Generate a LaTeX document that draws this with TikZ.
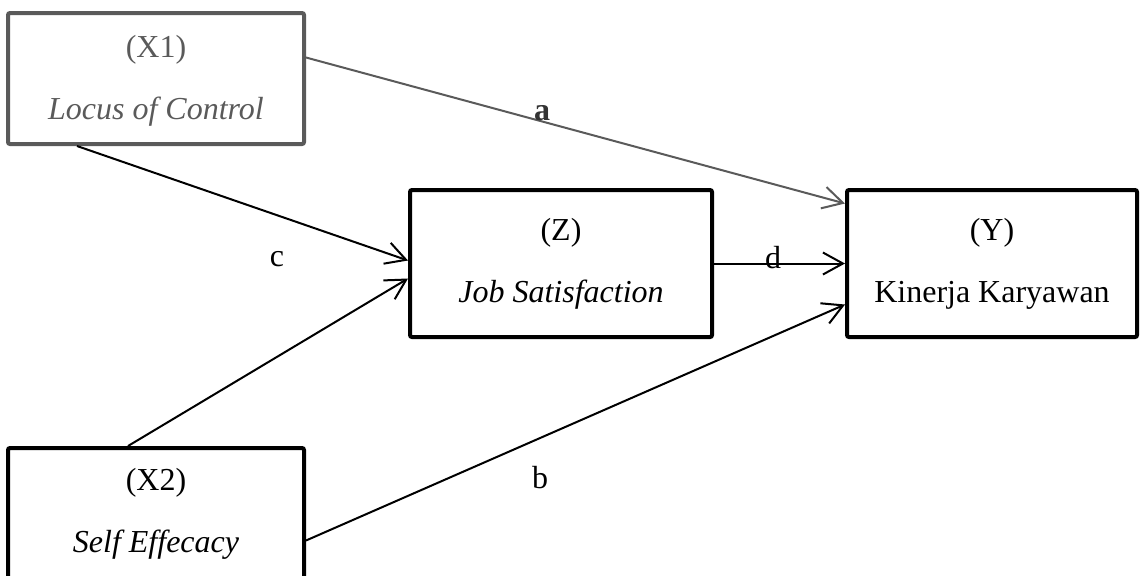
\documentclass[tikz,border=0pt]{standalone}
\usepackage{fontspec}
\setmainfont{Liberation Serif}
\usetikzlibrary{arrows.meta,positioning,calc}

\definecolor{fadegray}{HTML}{5A5A5A}

\begin{document}
\begin{tikzpicture}[
  x=0.5pt, y=-0.5pt,
  font=\fontsize{16}{19}\selectfont,
  >={Straight Barb[length=10pt,width=11pt]},
  var/.style={draw, line width=2pt, rounded corners=1pt, align=center, inner sep=0pt},
  faded/.style={var, draw=fadegray, text=fadegray},
  path/.style={->, line width=1pt},
  coef/.style={inner sep=1pt}
]
\useasboundingbox (0,0) rectangle (1145,575);
\clip (0,0) rectangle (1145,575);

\node[faded, minimum width=148pt, minimum height=65.5pt] (x1) at (156,78.5)
  {\\[-6pt](X1)\\[12pt]\textit{Locus of Control}};
\node[var, minimum width=151pt, minimum height=73.5pt] (z) at (561,263.5)
  {(Z)\\[12pt]\textit{Job Satisfaction}};
\node[var, minimum width=145pt, minimum height=73.5pt] (y) at (992,263.5)
  {(Y)\\[12pt]Kinerja Karyawan};
\node[var, minimum width=148pt, minimum height=65.5pt] (x2) at (156,513.5)
  {(X2)\\[12pt]\textit{Self Effecacy}};

% paths
\draw[path, fadegray] ($(x1.east)+(0,-21)$) -- ($(y.west)+(0,-60)$);
\draw[path] ($(x1.south)+(-79,0)$) -- ($(z.west)+(0,-3)$);
\draw[path] ($(x2.north)+(-28,0)$) -- ($(z.west)+(0,15)$);
\draw[path] (z.east) -- (y.west);
\draw[path] ($(x2.east)+(0,27)$) -- ($(y.west)+(0,41)$);

\node[coef, text=black!80, font=\fontsize{16}{19}\selectfont\bfseries] (la) at (542,113) {a};
\node[coef] (lb) at (540,478) {b};
\node[coef] (lc) at (277,259) {c};
\node[coef] (ld) at (773,258) {d};

\end{tikzpicture}
\end{document}
